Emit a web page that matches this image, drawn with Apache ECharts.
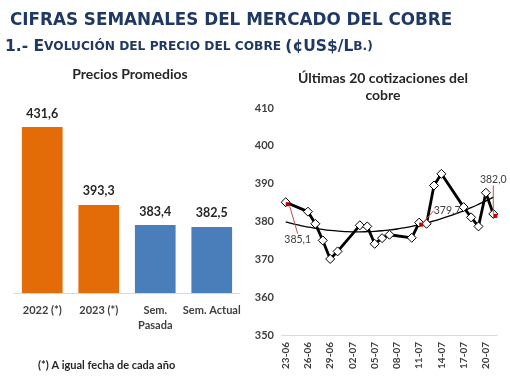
<!DOCTYPE html>
<html><head><meta charset="utf-8">
<script src="https://cdn.jsdelivr.net/npm/echarts@6/dist/echarts.min.js"></script>
<style>html,body{margin:0;padding:0;background:#fff}#c{width:510px;height:382px}</style>
</head><body><div id="c"></div>
<script>
// ---- Data ----
const barCategories = ['2022 (*)', '2023 (*)', 'Sem.\nPasada', 'Sem. Actual'];
const barValues = [431.6, 393.3, 383.4, 382.5];
const barColors = ['#E36C09', '#E36C09', '#4A7EBB', '#4A7EBB'];

const dayLabels = ['23-06','24-06','25-06','26-06','27-06','28-06','29-06','30-06',
  '01-07','02-07','03-07','04-07','05-07','06-07','07-07','08-07','09-07','10-07',
  '11-07','12-07','13-07','14-07','15-07','16-07','17-07','18-07','19-07','20-07','21-07'];
const quoteDates = ['23-06','26-06','27-06','28-06','29-06','30-06','03-07','04-07','05-07','06-07','07-07',
  '10-07','11-07','12-07','13-07','14-07','17-07','18-07','19-07','20-07','21-07'];
const quoteValues = [385.1,382.6,379.4,375.0,370.1,372.1,379.0,378.7,374.1,375.6,376.5,
  375.7,379.7,379.4,389.5,392.6,383.8,381.1,378.7,387.6,382.0];
const labeledDates = ['23-06', '11-07', '21-07'];
const lineTicks = [350, 360, 370, 380, 390, 400, 410];

// ---- Derived ----
const lineData = dayLabels.map(d => {
  const i = quoteDates.indexOf(d);
  return i >= 0 ? quoteValues[i] : null;
});
// quadratic (polynomial order 2) trend line fitted to the quotes, like the source spreadsheet
function quadFit(xs, ys) {
  let S = [0,0,0,0,0], T = [0,0,0];
  xs.forEach((x, k) => {
    const y = ys[k];
    for (let p = 0; p < 5; p++) S[p] += Math.pow(x, p);
    for (let p = 0; p < 3; p++) T[p] += y * Math.pow(x, p);
  });
  const A = [[S[0],S[1],S[2],T[0]],[S[1],S[2],S[3],T[1]],[S[2],S[3],S[4],T[2]]];
  for (let i = 0; i < 3; i++) {
    for (let j = i + 1; j < 3; j++) {
      const f = A[j][i] / A[i][i];
      for (let k = i; k < 4; k++) A[j][k] -= f * A[i][k];
    }
  }
  const c = [0,0,0];
  for (let i = 2; i >= 0; i--) {
    let s = A[i][3];
    for (let k = i + 1; k < 3; k++) s -= A[i][k] * c[k];
    c[i] = s / A[i][i];
  }
  return c;
}
const xs = quoteDates.map(d => dayLabels.indexOf(d));
const coef = quadFit(xs, quoteValues);
const trendData = dayLabels.map((d, i) => (i >= xs[0] && i <= xs[xs.length - 1]) ? +(coef[0] + coef[1] * i + coef[2] * i * i).toFixed(2) : null);
const redData = dayLabels.map((d, i) => labeledDates.includes(d) ? lineData[i] : null);
const labelOffsets = { '23-06': [10, 35], '11-07': [26, -14], '21-07': [-2, -36] };

const navy = '#1F3864';
const F = 'Lato, "Open Sans", sans-serif';
const chart = echarts.init(document.getElementById('c'));
chart.setOption({
  animation: false,
  backgroundColor: '#fff',
  title: [
    { text: 'CIFRAS SEMANALES DEL MERCADO DEL COBRE', left: 5, top: 7,
      textStyle: { fontFamily: '"DejaVu Sans", Verdana, sans-serif', fontWeight: 'bold', fontSize: 16.8, color: navy } },
    { text: '{b|1.- E}{s|VOLUCIÓN DEL PRECIO DEL COBRE }{b|(¢US$/L}{s|B.)}', left: 0, top: 34,
      textStyle: { rich: {
        b: { fontFamily: '"DejaVu Sans", Verdana, sans-serif', fontWeight: 'bold', fontSize: 15.5, color: navy },
        s: { fontFamily: '"DejaVu Sans", Verdana, sans-serif', fontWeight: 'bold', fontSize: 12.2, color: navy }
      } } },
    { text: 'Precios Promedios', left: 125, top: 62, textAlign: 'center',
      textStyle: { fontFamily: F, fontWeight: 'bold', fontSize: 14, color: '#262626' } },
    { text: 'Últimas 20 cotizaciones del\ncobre', left: 378, top: 65, textAlign: 'center',
      textStyle: { fontFamily: F, fontWeight: 'bold', fontSize: 14, color: '#262626', lineHeight: 17 } },
    { text: '(*) A igual fecha de cada año', left: 33, top: 355,
      textStyle: { fontFamily: F, fontWeight: 'bold', fontSize: 11, color: '#262626' } }
  ],
  grid: [
    { left: 14, width: 226, top: 110, height: 183 },
    { left: 282, width: 215, top: 108, height: 227 }
  ],
  xAxis: [
    { type: 'category', gridIndex: 0, data: barCategories,
      axisLine: { lineStyle: { color: '#D9D9D9' } }, axisTick: { show: false },
      axisLabel: { fontFamily: F, fontWeight: 'bold', fontSize: 11, color: '#404040', margin: 10, lineHeight: 15, interval: 0 } },
    { type: 'category', gridIndex: 1, data: dayLabels, boundaryGap: true,
      axisLine: { lineStyle: { color: '#D9D9D9' } }, axisTick: { show: false },
      axisLabel: { fontFamily: F, fontWeight: 'bold', fontSize: 10, color: '#404040', rotate: 90, interval: 2, margin: 7 } }
  ],
  yAxis: [
    { type: 'value', gridIndex: 0, min: 350, max: 440, show: false },
    { type: 'value', gridIndex: 1, min: lineTicks[0], max: lineTicks[lineTicks.length - 1], interval: 10,
      axisLine: { show: false }, axisTick: { show: false }, splitLine: { show: false },
      axisLabel: { fontFamily: F, fontWeight: 'bold', fontSize: 11, color: '#404040', margin: 8 } }
  ],
  series: [
    { type: 'bar', xAxisIndex: 0, yAxisIndex: 0, barCategoryGap: '28%',
      data: barValues.map((v, i) => ({ value: v, itemStyle: { color: barColors[i] } })),
      label: { show: true, position: 'top', distance: 7, fontFamily: F, fontWeight: 'bold', fontSize: 12.5, color: '#262626',
        formatter: p => p.value.toFixed(1).replace('.', ',') } },
    { type: 'line', xAxisIndex: 1, yAxisIndex: 1, data: trendData, smooth: true, symbol: 'none',
      lineStyle: { color: '#000', width: 1.3 }, z: 2 },
    { type: 'line', xAxisIndex: 1, yAxisIndex: 1, data: lineData, connectNulls: true,
      symbol: 'diamond', symbolSize: 9, showAllSymbol: true, lineStyle: { color: '#000', width: 2.8 },
      itemStyle: { color: '#fff', borderColor: '#000', borderWidth: 1 }, z: 3 },
    { type: 'line', xAxisIndex: 1, yAxisIndex: 1, data: redData, connectNulls: false,
      symbol: 'rect', symbolSize: 4, symbolOffset: [2, 2], showSymbol: true, showAllSymbol: true, lineStyle: { opacity: 0 },
      itemStyle: { color: '#C00000' }, z: 4,
      label: { show: true, position: 'inside', fontFamily: F, fontSize: 10.5, color: '#404040',
        formatter: p => p.value == null ? '' : p.value.toFixed(1).replace('.', ',') },
      labelLine: { show: true, lineStyle: { color: '#C0504D', width: 1 } },
      labelLayout: p => {
        const off = labelOffsets[dayLabels[p.dataIndex]] || [0, 0];
        return { dx: off[0], dy: off[1] };
      } }
  ]
});
</script></body></html>
